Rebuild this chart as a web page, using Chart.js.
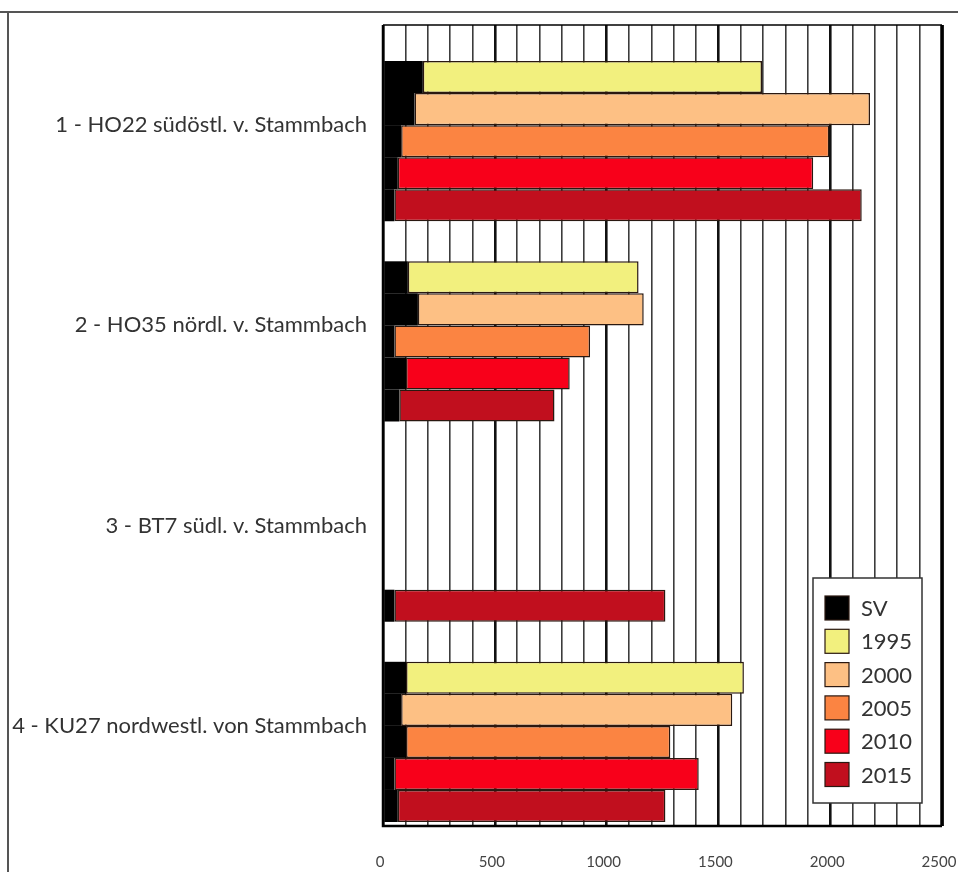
<!DOCTYPE html>
<html lang="de">
<head>
    <meta charset="UTF-8">
    <title>Messstellen Stammbach</title>
    <style>
        body{
            margin: 0px;
            padding: 0px;
            background-color: white;
        }
        #wrap{
            width: 958px;
            height: 872px;
            position: relative;
        }
    </style>
</head>
<body>
    <div id="wrap">
        <canvas id="myChart"></canvas>
    </div>

    <script src="https://cdn.jsdelivr.net/npm/chart.js@4.4.0/dist/chart.umd.min.js"></script>
    <script>
// Messstellen
const categories = [
    '1 - HO22 südöstl. v. Stammbach',
    '2 - HO35 nördl. v. Stammbach',
    '3 - BT7 südl. v. Stammbach',
    '4 - KU27 nordwestl. von Stammbach'
];
const years = ['1995', '2000', '2005', '2010', '2015'];

// SV-Anteil (schwarz) und Gesamtwert je Jahr
const sv1995 = [178, 111, null, 103];
const total1995 = [1695, 1143, null, 1614];
const sv2000 = [141, 156, null, 81];
const total2000 = [2178, 1166, null, 1562];
const sv2005 = [81, 51, null, 103];
const total2005 = [1996, 926, null, 1285];
const sv2010 = [66, 103, null, 51];
const total2010 = [1924, 835, null, 1412];
const sv2015 = [51, 73, 51, 66];
const total2015 = [2141, 767, 1263, 1263];

const xTicks = [0, 500, 1000, 1500, 2000, 2500];

const svColor = '#000000';
const yearColors = ['#f2f07e', '#fdc084', '#fb8442', '#f8001a', '#c10f1e'];

const svList = [sv1995, sv2000, sv2005, sv2010, sv2015];
const totalList = [total1995, total2000, total2005, total2010, total2015];

// leerer Platz oben in jeder Gruppe (wie im Original)
let datasets = [{
    label: 'pad',
    data: categories.map(() => null),
    stack: 'pad',
    backgroundColor: 'transparent'
}];

years.forEach((yr, i) => {
    datasets.push({
        label: 'SV ' + yr,
        data: svList[i],
        stack: yr,
        backgroundColor: svColor,
        borderWidth: 0
    });
    datasets.push({
        label: yr,
        data: totalList[i].map((t, k) => t === null ? null : t - svList[i][k]),
        stack: yr,
        backgroundColor: yearColors[i],
        borderColor: '#2a1810',
        borderWidth: 1.5,
        borderSkipped: false
    });
});

const framePlugin = {
    id: 'frame',
    beforeDraw(chart) {
        const ctx = chart.ctx;
        ctx.save();
        ctx.fillStyle = 'white';
        ctx.fillRect(0, 0, chart.width, chart.height);
        ctx.strokeStyle = '#555';
        ctx.lineWidth = 2;
        ctx.beginPath();
        ctx.moveTo(0, 12);
        ctx.lineTo(chart.width, 12);
        ctx.moveTo(8, 12);
        ctx.lineTo(8, chart.height);
        ctx.stroke();
        ctx.restore();
    },
    afterDatasetsDraw(chart) {
        const ctx = chart.ctx;
        const a = chart.chartArea;
        ctx.save();
        ctx.strokeStyle = '#000';
        ctx.lineWidth = 1.5;
        ctx.beginPath();
        ctx.moveTo(a.left, a.top);
        ctx.lineTo(a.right, a.top);
        ctx.stroke();
        ctx.lineWidth = 2.5;
        ctx.beginPath();
        ctx.moveTo(a.left, a.top);
        ctx.lineTo(a.left, a.bottom);
        ctx.lineTo(a.right, a.bottom);
        ctx.stroke();
        ctx.lineWidth = 3.5;
        ctx.beginPath();
        ctx.moveTo(a.right, a.top);
        ctx.lineTo(a.right, a.bottom);
        ctx.stroke();

        // Legende unten rechts im Diagramm
        const bx = a.right - 129, by = a.bottom - 248, bw = 109, bh = 225;
        ctx.fillStyle = 'white';
        ctx.fillRect(bx, by, bw, bh);
        ctx.strokeStyle = '#333';
        ctx.lineWidth = 1.5;
        ctx.strokeRect(bx, by, bw, bh);
        const names = ['SV'].concat(years);
        const cols = [svColor].concat(yearColors);
        ctx.font = '22px "Lato", sans-serif';
        ctx.textBaseline = 'middle';
        names.forEach((n, i) => {
            const cy = by + 30 + i * 33.3;
            ctx.fillStyle = cols[i];
            ctx.fillRect(bx + 12, cy - 12, 24, 24);
            ctx.strokeStyle = '#2a1810';
            ctx.lineWidth = 1.2;
            ctx.strokeRect(bx + 12, cy - 12, 24, 24);
            ctx.fillStyle = '#333';
            ctx.fillText(n, bx + 48, cy + 1);
        });
        ctx.restore();
    }
};

const ctx = document.getElementById('myChart').getContext('2d');
const myChart = new Chart(ctx, {
    type: 'bar',
    data: {
        labels: categories,
        datasets: datasets
    },
    options: {
        indexAxis: 'y',
        responsive: true,
        maintainAspectRatio: false,
        animation: false,
        devicePixelRatio: 1,
        layout: {
            padding: {left: 0, top: 25, right: 16, bottom: 0}
        },
        plugins: {
            legend: {display: false},
            tooltip: {enabled: false}
        },
        datasets: {
            bar: {
                categoryPercentage: 0.96,
                barPercentage: 1.0
            }
        },
        scales: {
            x: {
                stacked: true,
                min: 0,
                max: 2500,
                grid: {
                    drawTicks: false,
                    color: (c) => xTicks.includes(c.tick.value) ? '#111' : '#3c3c3c',
                    lineWidth: (c) => xTicks.includes(c.tick.value) ? 2.6 : 1.6
                },
                border: {display: false},
                ticks: {
                    stepSize: 100,
                    autoSkip: false,
                    maxRotation: 0,
                    padding: 27,
                    labelOffset: -3,
                    color: '#444',
                    font: {family: 'Lato', size: 15},
                    callback: (v) => xTicks.includes(v) ? String(v) : ''
                },
                afterFit(scale) {
                    scale.height = 46;
                    scale.paddingLeft = 0;
                    scale.paddingRight = 0;
                }
            },
            y: {
                grid: {display: false},
                border: {display: false},
                ticks: {
                    padding: 8,
                    color: '#333',
                    font: {family: 'Lato', size: 22}
                },
                afterFit(scale) {
                    scale.width = 383;
                    scale.paddingTop = 0;
                    scale.paddingBottom = 0;
                }
            }
        }
    },
    plugins: [framePlugin]
});
    </script>
</body>
</html>
